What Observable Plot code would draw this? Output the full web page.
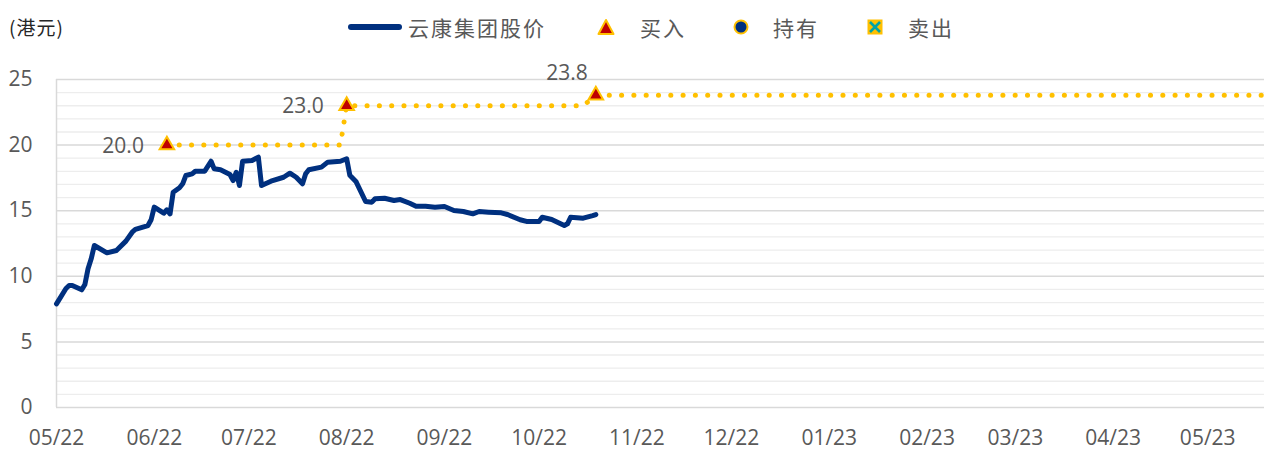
<!DOCTYPE html>
<html><head><meta charset="utf-8">
<script src="https://cdn.jsdelivr.net/npm/d3@7"></script>
<script src="https://cdn.jsdelivr.net/npm/@observablehq/plot@0.6"></script>
<style>
body{margin:0;background:#fff;width:1264px;height:452px;overflow:hidden;}
#header{position:relative;height:50px;width:1264px;font-family:"Noto Sans CJK SC",sans-serif;color:#595959;}
#header .t{position:absolute;font-size:21px;line-height:22px;top:16px;letter-spacing:2px;white-space:nowrap;}
#unit{position:absolute;left:9px;top:16px;font-size:19px;line-height:22px;color:#262626;letter-spacing:1px;font-family:"Noto Sans CJK SC",sans-serif;}
#header svg{position:absolute;}
</style></head><body>
<div id="header">
  <span id="unit">(港元)</span>
  <div style="position:absolute;left:348px;top:24px;width:54px;height:5.5px;background:#00307F;border-radius:3px;"></div>
  <span class="t" style="left:408px;">云康集团股价</span>
  <svg style="left:597px;top:18px" width="18" height="18"><polygon points="9,2 16.5,16 1.5,16" fill="#C00000" stroke="#FFC000" stroke-width="2" stroke-linejoin="round"/></svg>
  <span class="t" style="left:640px;">买入</span>
  <svg style="left:733px;top:19px" width="16" height="16"><circle cx="8" cy="8" r="6.5" fill="#00307F" stroke="#FFC000" stroke-width="2"/></svg>
  <span class="t" style="left:773px;">持有</span>
  <svg style="left:867px;top:19px" width="16" height="16"><rect x="0.5" y="0.5" width="15" height="15" fill="#FFC000"/><path d="M3,3 L13,13 M13,3 L3,13" stroke="#00A3A6" stroke-width="2.6"/></svg>
  <span class="t" style="left:908px;">卖出</span>
</div>
<div id="chart"></div>
<script>
// ---- data ----
const priceDates = ["2022-05-01","2022-05-04","2022-05-05","2022-05-06","2022-05-09","2022-05-10","2022-05-11","2022-05-12","2022-05-13","2022-05-17","2022-05-20","2022-05-23","2022-05-25","2022-05-26","2022-05-30","2022-05-31","2022-06-01","2022-06-04","2022-06-05","2022-06-06","2022-06-07","2022-06-09","2022-06-10","2022-06-11","2022-06-13","2022-06-14","2022-06-17","2022-06-19","2022-06-20","2022-06-22","2022-06-25","2022-06-26","2022-06-27","2022-06-28","2022-06-29","2022-07-02","2022-07-04","2022-07-05","2022-07-08","2022-07-12","2022-07-14","2022-07-16","2022-07-18","2022-07-19","2022-07-20","2022-07-24","2022-07-26","2022-07-30","2022-08-01","2022-08-02","2022-08-04","2022-08-07","2022-08-09","2022-08-10","2022-08-13","2022-08-16","2022-08-18","2022-08-21","2022-08-23","2022-08-26","2022-08-29","2022-09-01","2022-09-04","2022-09-07","2022-09-10","2022-09-12","2022-09-15","2022-09-19","2022-09-21","2022-09-25","2022-09-27","2022-10-01","2022-10-02","2022-10-05","2022-10-09","2022-10-10","2022-10-11","2022-10-15","2022-10-18","2022-10-19"];
const priceValues = [7.90,9.07,9.30,9.30,8.97,9.38,10.57,11.33,12.35,11.79,11.97,12.68,13.36,13.57,13.87,14.31,15.27,14.81,15.07,14.76,16.41,16.75,17.05,17.68,17.81,18.01,18.01,18.77,18.19,18.12,17.76,17.30,17.93,16.92,18.77,18.83,19.08,16.92,17.25,17.55,17.86,17.55,17.05,17.81,18.12,18.32,18.70,18.77,18.96,17.70,17.20,15.70,15.65,15.91,15.95,15.78,15.85,15.57,15.34,15.34,15.27,15.32,15.02,14.94,14.76,14.94,14.89,14.84,14.71,14.31,14.18,14.18,14.50,14.33,13.87,14.00,14.50,14.43,14.63,14.71];
const targetDates = ["2022-06-05","2022-07-30","2022-08-01","2022-10-15","2022-10-19","2023-05-19"];
const targetValues = [20, 20, 23, 23, 23.8, 23.8];
const buyDates = ["2022-06-05","2022-08-01","2022-10-19"];
const buyValues = [20.0, 23.0, 23.8];
const buyLabels = ["20.0","23.0","23.8"];
const yTicks = [0,5,10,15,20,25];
const xTickLabels = ["05/22","06/22","07/22","08/22","09/22","10/22","11/22","12/22","01/23","02/23","03/23","04/23","05/23"];
const xDomain = ["2022-05-01","2023-05-19"];

// ---- build ----
const pd = d3.utcParse("%Y-%m-%d");
const price = priceDates.map((d,i)=>({date:pd(d), v:priceValues[i]}));
const target = targetDates.map((d,i)=>({date:pd(d), v:targetValues[i]}));
const buys = buyDates.map((d,i)=>({date:pd(d), v:buyValues[i], label:buyLabels[i]}));
const xTicks = xTickLabels.map(s=>d3.utcParse("%m/%y")(s));
const gridMinor = d3.range(0,26).filter(v=>v%5!==0);

const font = "'Open Sans', 'Noto Sans', sans-serif";
const chart = Plot.plot({
  width: 1264, height: 402,
  marginTop: 29, marginBottom: 45, marginLeft: 56, marginRight: 0,
  style: {fontFamily: font, background: "#fff", overflow: "visible"},
  x: {type: "utc", domain: xDomain.map(pd)},
  y: {domain: [0,25]},
  marks: [
    Plot.ruleY(gridMinor, {stroke: "#EDEDED", strokeWidth: 1.3}),
    Plot.ruleY(yTicks, {stroke: "#D9D9D9", strokeWidth: 1.5}),
    Plot.ruleX([pd(xDomain[0])], {y1: 0, y2: 25, stroke: "#D9D9D9", strokeWidth: 1.5}),
    Plot.axisY({ticks: yTicks, tickSize: 0, tickPadding: 24, fontSize: 21, fill: "#595959", label: null}),
    Plot.axisX({ticks: xTicks, tickFormat: d3.utcFormat("%m/%y"), tickSize: 0, tickPadding: 23, fontSize: 21, fill: "#595959", label: null}),
    Plot.line(target, {x: "date", y: "v", stroke: "#FFC000", strokeWidth: 5, strokeDasharray: "0.1,12.2", strokeLinecap: "round", strokeLinejoin: "round"}),
    Plot.line(price, {x: "date", y: "v", stroke: "#00307F", strokeWidth: 5, strokeLinecap: "round", strokeLinejoin: "round"}),
    Plot.dot(buys, {x: "date", y: "v", symbol: "triangle", r: 5.4, fill: "#C00000", stroke: "#FFC000", strokeWidth: 2}),
    Plot.text(buys.slice(0,2), {x: "date", y: "v", text: "label", textAnchor: "end", dx: -23, dy: 1, fontSize: 21, fill: "#595959"}),
    Plot.text(buys.slice(2), {x: "date", y: "v", text: "label", textAnchor: "end", dx: -8, dy: -22, fontSize: 21, fill: "#595959"})
  ]
});
document.getElementById("chart").appendChild(chart);
</script>
</body></html>
